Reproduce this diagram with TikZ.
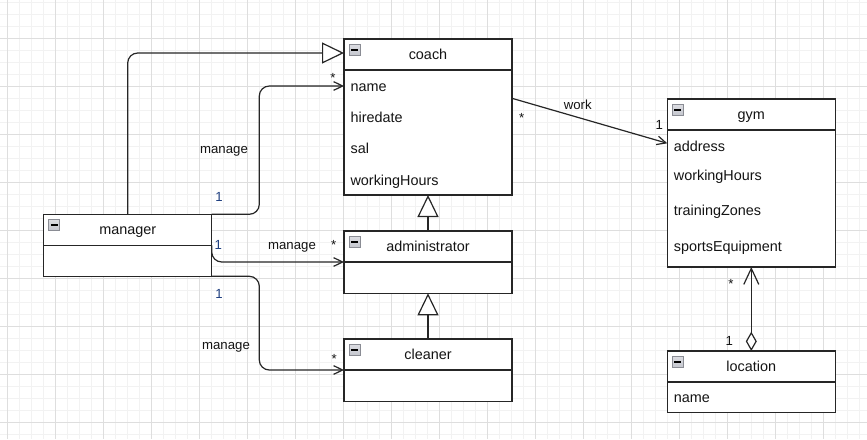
\documentclass[tikz,border=0pt]{standalone}
\usepackage{fontspec}
\setmainfont{Liberation Sans}
\usetikzlibrary{arrows.meta,calc}
\definecolor{gridmaj}{HTML}{DEDEDE}
\definecolor{gridmin}{HTML}{F2F2F2}
\definecolor{lineC}{HTML}{262626}
\definecolor{txt}{HTML}{141414}
\definecolor{onec}{HTML}{1F3F80}
\definecolor{iconfill}{HTML}{C4C6CE}
\definecolor{iconline}{HTML}{8A8C94}
\begin{document}
\begin{tikzpicture}[x=0.75pt,y=-0.75pt,
  hdr/.style={draw=lineC, line width=0.9pt, fill=white, inner sep=0pt, outer sep=0pt, anchor=north west,
    minimum width=126pt, minimum height=23.25pt, text=txt,
    font=\fontsize{10.8pt}{12pt}\selectfont, text height=0.8em, text depth=0.05em},
  bodyb/.style={draw=lineC, line width=0.9pt, fill=white, inner sep=0pt, outer sep=0pt, anchor=north west,
    minimum width=126pt},
  attr/.style={anchor=base west, inner sep=0pt, text=txt, font=\fontsize{10.8pt}{12pt}\selectfont},
  lbl/.style={anchor=base, inner sep=0pt, text=txt, font=\fontsize{9.9pt}{11pt}\selectfont},
  icon/.style={draw=iconline, line width=0.6pt, top color=iconfill!60, bottom color=iconfill,
    minimum size=8.25pt, inner sep=0pt,
    path picture={\draw[black, line width=1.1pt]
      ([xshift=1.6pt]path picture bounding box.west) -- ([xshift=-1.6pt]path picture bounding box.east);}},
  conn/.style={draw=lineC, line width=0.9pt},
  gen/.style={conn, -{Triangle[length=16.5pt, width=15.75pt, fill=white, line width=0.9pt]}},
  assoc/.style={conn, -{Straight Barb[length=6.75pt, width=6.5pt, line width=0.9pt]}},
  rc/.style={rounded corners=7.5pt}
]
\useasboundingbox (0,0) rectangle (867,439);
\fill[white] (0,0) rectangle (867,439);
% grid
\foreach \i in {0,...,71} \draw[gridmin, line width=0.75pt] ({7.3+12*\i},0) -- ({7.3+12*\i},439);
\foreach \i in {0,...,36} \draw[gridmin, line width=0.75pt] (0,{2.3+12*\i}) -- (867,{2.3+12*\i});
\foreach \i in {0,...,17} \draw[gridmaj, line width=0.75pt] ({7.3+48*\i},0) -- ({7.3+48*\i},439);
\foreach \i in {0,...,8} \draw[gridmaj, line width=0.75pt] (0,{38.3+48*\i}) -- (867,{38.3+48*\i});

% coach
\node[hdr] (coachH) at (344,39) {coach};
\node[bodyb, minimum height=93.75pt] (coachB) at (coachH.south west) {};
\node[attr] (cname) at (350.3,91) {name};
\node[attr] (chire) at (350.3,122.3) {hiredate};
\node[attr] (csal) at (350.3,153.6) {sal};
\node[attr] (cwork) at (350.3,185) {workingHours};

% manager
\node[hdr] (managerH) at (43.7,214.3) {manager};
\node[bodyb, minimum height=23.25pt] (managerB) at (managerH.south west) {};

% administrator
\node[hdr] (adminH) at (344,231) {administrator};
\node[bodyb, minimum height=23.5pt] (adminB) at (adminH.south west) {};

% cleaner
\node[hdr] (cleanerH) at (344,339) {cleaner};
\node[bodyb, minimum height=23.5pt] (cleanerB) at (cleanerH.south west) {};

% gym
\node[hdr] (gymH) at (667.3,99) {gym};
\node[bodyb, minimum height=102.75pt] (gymB) at (gymH.south west) {};
\node[attr] (gaddr) at (673.6,151) {address};
\node[attr] (gwork) at (673.6,180) {workingHours};
\node[attr] (gzone) at (673.6,215.7) {trainingZones};
\node[attr] (gequip) at (673.6,251.7) {sportsEquipment};

% location
\node[hdr] (locH) at (667.3,351) {location};
\node[bodyb, minimum height=23pt] (locB) at (locH.south west) {};
\node[attr] (lname) at (673.6,402.7) {name};

% icons
\foreach \n in {coachH,managerH,adminH,cleanerH,gymH,locH}
  \node[icon] (\n I) at ($(\n.north west)+(10.5,10.8)$) {};

% connectors
\draw[gen, rc] (managerH.north) |- ($(coachH.west)+(0,-1.5)$);
\draw[assoc, rc] (managerH.north east) -| ($(coachB.north west)+(-84.7,16)$) -- ($(coachB.north west)+(0,16)$);
\draw[assoc, rc] (managerB.north east) |- (adminH.south west);
\draw[assoc, rc] (managerB.south east) -| ($(cleanerH.south west)+(-84.7,0)$) -- (cleanerH.south west);
\draw[gen] (adminH.north) -- (coachB.south);
\draw[gen] (cleanerH.north) -- (adminB.south);
\draw[assoc] ($(coachB.north east)+(0,28.3)$) -- ($(gymB.north west)+(0,13.3)$);
\draw[conn, {Diamond[length=14.5pt, width=8.25pt, fill=white, line width=0.9pt]}-{Straight Barb[length=12pt, width=11.25pt, line width=0.9pt]}]
  (locH.north) -- (gymB.south);

% labels
\node[lbl] (l1) at (224,153) {manage};
\node[lbl, text=onec] (l2) at (219,201.7) {1};
\node[lbl] (l3) at (333,82.6) {*};
\node[lbl] (l4) at (292,249.7) {manage};
\node[lbl, text=onec] (l5) at (218.3,249.7) {1};
\node[lbl] (l6) at (333.7,249.3) {*};
\node[lbl] (l7) at (226,349.7) {manage};
\node[lbl, text=onec] (l8) at (219,298) {1};
\node[lbl] (l9) at (334.3,363.3) {*};
\node[lbl] (l10) at (577.7,109.3) {work};
\node[lbl] (l11) at (521.7,122.6) {*};
\node[lbl] (l12) at (659.3,129.7) {1};
\node[lbl] (l13) at (731,288.3) {*};
\node[lbl] (l14) at (729.3,345.7) {1};
\end{tikzpicture}
\end{document}
